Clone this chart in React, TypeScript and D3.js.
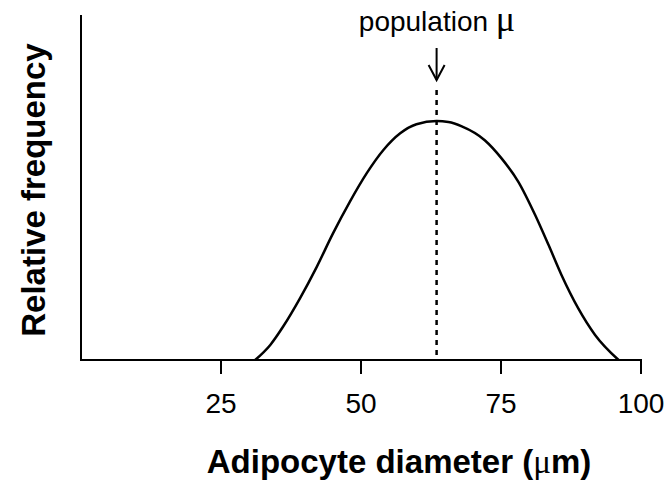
import React from "react";
import * as d3 from "d3";

// Curve: diameter (µm) and relative frequency (peak = 1)
const diameters = [31.1, 33.8, 36.1, 39.1, 42.1, 45.0, 48.0, 51.0, 54.0, 57.0, 59.9, 63.5, 65.6, 68.0, 72.1, 75.1, 78.1, 81.1, 83.5, 85.8, 88.8, 91.8, 96.0];
const frequencies = [0, 0.063, 0.14, 0.258, 0.39, 0.53, 0.662, 0.781, 0.879, 0.949, 0.987, 1.0, 0.996, 0.978, 0.92, 0.844, 0.746, 0.607, 0.481, 0.356, 0.216, 0.105, 0];
const xTicks = [25, 50, 75, 100];
const populationMean = 63.5;
const xLabel = "Adipocyte diameter (";
const yLabel = "Relative frequency";
const annotation = "population ";

const W = 664;
const H = 480;

export default function App() {
  const x = d3.scaleLinear().domain([0, 100]).range([81, 641]);
  const y = d3.scaleLinear().domain([0, 1.444]).range([360, 15]);
  const pts: [number, number][] = diameters.map((d, i) => [d, frequencies[i]]);
  const line = d3
    .line<[number, number]>()
    .x((d) => x(d[0]))
    .y((d) => y(d[1]))
    .curve(d3.curveMonotoneX);
  const mx = x(populationMean);
  const font = "Liberation Sans, Arial, Helvetica, sans-serif";
  return (
    <svg
      width={W}
      height={H}
      style={{ position: "absolute", left: 0, top: 0, background: "#fff" }}
      fontFamily={font}
    >
      <rect width={W} height={H} fill="#fff" />
      {/* axes */}
      <line x1={x(0)} x2={x(0)} y1={y(1.444)} y2={y(0)} stroke="#000" strokeWidth={2} />
      <line x1={x(0) - 1} x2={x(100) + 1} y1={y(0)} y2={y(0)} stroke="#000" strokeWidth={2} />
      {xTicks.map((t) => (
        <g key={t}>
          <line x1={x(t)} x2={x(t)} y1={y(0)} y2={y(0) + 14} stroke="#000" strokeWidth={2} />
          <text x={x(t)} y={413} textAnchor="middle" fontSize={28} fill="#000">
            {t}
          </text>
        </g>
      ))}
      {/* curve */}
      <path d={line(pts) || ""} fill="none" stroke="#000" strokeWidth={2.5} />
      {/* mean line */}
      <line x1={mx} x2={mx} y1={90} y2={y(0)} stroke="#000" strokeWidth={2.5} strokeDasharray="5 5" />
      {/* arrow */}
      <line x1={mx} x2={mx} y1={48} y2={80} stroke="#000" strokeWidth={2} />
      <polyline points={`${mx - 8},${65} ${mx},${80} ${mx + 8},${65}`} fill="none" stroke="#000" strokeWidth={2} />
      <text x={437} y={31} textAnchor="middle" fontSize={28} fill="#000">
        {annotation}
        <tspan fontFamily="Liberation Serif, serif" fontSize={36}>μ</tspan>
      </text>
      {/* axis titles */}
      <text x={399} y={473} textAnchor="middle" fontSize={33} fontWeight="bold" fill="#000">
        {xLabel}
        <tspan fontFamily="Liberation Serif, serif" fontWeight="normal">μ</tspan>
        m)
      </text>
      <text
        transform={`translate(45,${190}) rotate(-90)`}
        textAnchor="middle"
        fontSize={33}
        fontWeight="bold"
        fill="#000"
      >
        {yLabel}
      </text>
    </svg>
  );
}
